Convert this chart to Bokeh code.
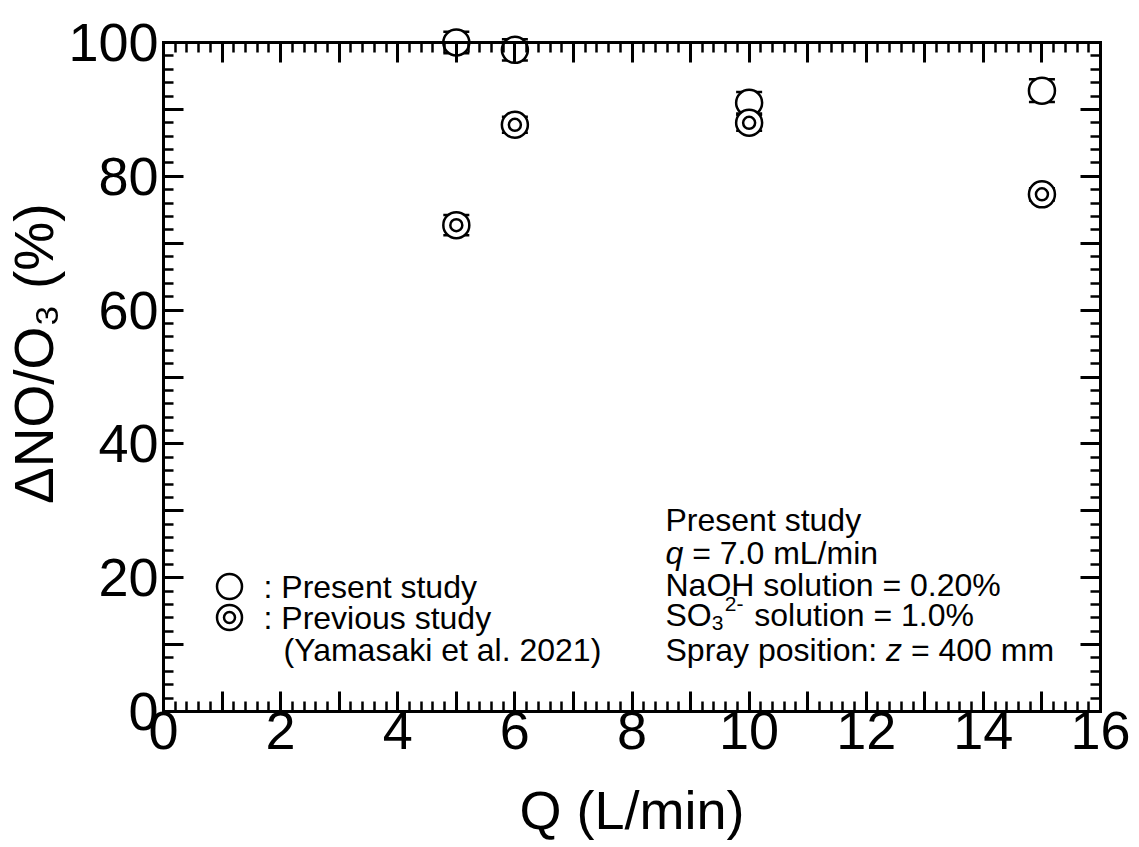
import numpy as np
from bokeh.plotting import figure
from bokeh.models import Range1d, FixedTicker, LinearAxis, Label
from bokeh.embed import file_html
from bokeh.resources import INLINE

# ---------------- data ----------------
q_present = [5, 6, 10, 15]
dno_present = [100.0, 98.9, 91.0, 92.8]
err_present = [1.6, 1.6, 1.6, 1.7]

q_previous = [5, 6, 10, 15]
dno_previous = [72.7, 87.7, 88.0, 77.3]
err_previous = [1.5, 1.2, 1.2, 0.9]

x_major = list(range(0, 17))
x_minor = [round(i * 0.2, 2) for i in range(0, 81)]
x_tick_labels = {t: (str(t) if t % 2 == 0 else "") for t in x_major}
y_major = list(range(0, 101, 10))
y_minor = list(range(0, 101, 2))
y_tick_labels = {t: (str(t) if t % 20 == 0 else "") for t in y_major}

x_title = "Q (L/min)"
y_title = "ΔNO/O\u2083 (%)"

# ---------------- layout helpers ----------------
W, H = 1139, 847
FL, FB, FW, FH = 163, 711, 937, 669      # box of the 0..16 x 0..100 area
XMIN, XMAX, YMIN, YMAX = 0, 16, 0, 100
FH_EXT = 685                              # frame extends a little above y=100
YTOP = YMAX * FH_EXT / FH
FONT = "Liberation Sans"
NB = "\u00a0"

def dx(px):
    return XMIN + (px - FL) / FW * (XMAX - XMIN)

def dy(py):
    return YMIN + (FB - py) / FH * (YMAX - YMIN)

AW = {' ': 278, NB: 278, 'S': 667, 'O': 778, 'P': 667, 'N': 722, 'H': 722, 'Q': 778,
      'L': 556, 'Y': 667, 'a': 556, 'p': 556, 'r': 333, 'e': 556, 's': 500, 'n': 556,
      't': 278, 'u': 556, 'd': 556, 'y': 500, 'o': 556, 'i': 222, 'l': 222, 'm': 833,
      'k': 500, 'v': 500, 'q': 556, 'z': 500, '/': 278, '=': 584, '.': 278, '%': 889,
      ':': 278, '(': 333, ')': 333, '-': 333}

def tw(s, size):
    return sum(AW.get(c, 556) for c in s) * size / 1000.0

# ---------------- figure ----------------
p = figure(frame_width=FW, frame_height=FH_EXT,
           x_range=Range1d(XMIN, XMAX), y_range=Range1d(YMIN, YTOP),
           output_backend="svg", toolbar_location=None,
           min_border_left=FL, min_border_top=FB - FH_EXT,
           min_border_right=W - FL - FW, min_border_bottom=H - FB,
           background_fill_color="white", border_fill_color="white")
p.grid.visible = False
p.outline_line_color = None

xt = FixedTicker(ticks=x_major, minor_ticks=x_minor)
yt = FixedTicker(ticks=y_major, minor_ticks=y_minor)

def style_axis(ax, labels, show):
    ax.axis_line_color = "black"
    ax.axis_line_width = 3
    ax.axis_line_cap = "square"
    ax.major_tick_in = 20
    ax.major_tick_out = 0
    ax.minor_tick_in = 10
    ax.minor_tick_out = 0
    ax.major_tick_line_width = 3
    ax.minor_tick_line_width = 2.5
    ax.major_tick_line_color = "black"
    ax.minor_tick_line_color = "black"
    ax.major_label_overrides = labels
    ax.major_label_text_font = FONT
    ax.major_label_text_color = "black"
    ax.axis_label_text_font = FONT
    ax.axis_label_text_color = "black"
    ax.axis_label_text_font_style = "normal"
    if show:
        ax.major_label_text_font_size = "54px"
    else:
        ax.axis_label = None
        ax.major_label_text_font_size = "0px"
        ax.major_label_standoff = 0

xa = p.xaxis[0]
xa.ticker = xt
xa.bounds = (XMIN, XMAX)
style_axis(xa, x_tick_labels, True)
xa.major_label_standoff = 0
xa.axis_label = x_title
xa.axis_label_text_font_size = "54px"
xa.axis_label_standoff = 28

ya = p.yaxis[0]
ya.ticker = yt
ya.bounds = (YMIN, YMAX)
style_axis(ya, y_tick_labels, True)
ya.major_label_standoff = 5
ya.axis_label = NB + NB + y_title
ya.axis_label_text_font_size = "55px"
ya.axis_label_standoff = 0

top = LinearAxis(ticker=xt, fixed_location=YMAX, bounds=(XMIN, XMAX))
style_axis(top, {t: "" for t in x_major}, False)
p.add_layout(top, "above")
right = LinearAxis(ticker=yt, bounds=(YMIN, YMAX))
style_axis(right, {t: "" for t in y_major}, False)
p.add_layout(right, "right")

# ---------------- error bars ----------------
cap = dx(FL + 13)

def errbars(xs, ys, es):
    lo = [y - e for y, e in zip(ys, es)]
    hi = [y + e for y, e in zip(ys, es)]
    p.segment(x0=xs, y0=lo, x1=xs, y1=hi, line_color="black", line_width=2)
    for ends in (lo, hi):
        p.segment(x0=[x - cap for x in xs], y0=ends, x1=[x + cap for x in xs], y1=ends,
                  line_color="black", line_width=2.5)

errbars(q_present, dno_present, err_present)
errbars(q_previous, dno_previous, err_previous)

# ---------------- markers ----------------
p.scatter(q_present, dno_present, marker="circle", size=26,
          fill_color="white", line_color="black", line_width=2.5)
p.scatter(q_previous, dno_previous, marker="circle", size=26,
          fill_color="white", line_color="black", line_width=2.5)
p.scatter(q_previous, dno_previous, marker="circle", size=12,
          fill_color="white", line_color="black", line_width=2.5)

# ---------------- legend (drawn) ----------------
p.scatter([dx(229)], [dy(586)], marker="circle", size=25,
          fill_color="white", line_color="black", line_width=2.5)
p.scatter([dx(229)], [dy(617)], marker="circle", size=25,
          fill_color="white", line_color="black", line_width=2.5)
p.scatter([dx(229)], [dy(617)], marker="circle", size=11,
          fill_color="white", line_color="black", line_width=2.5)

YSHIFT = -11

def lab(px, py, text, size, style="normal"):
    p.add_layout(Label(x=dx(px), y=dy(py + YSHIFT), text=text, text_font=FONT,
                       text_font_size=f"{size}px", text_font_style=style,
                       text_color="black", text_baseline="alphabetic",
                       text_align="left"))

TS = 32
lab(263, 597, ":" + NB + "Present study", TS)
lab(263, 628, ":" + NB + "Previous study", TS)
lab(283, 660, "(Yamasaki et al. 2021)", TS)

# right-hand condition block
RX = 665
lab(RX, 530, "Present study", TS)
lab(RX, 563, "q", TS, "italic")
lab(RX + tw("q", TS), 563, NB + "= 7.0 mL/min", TS)
lab(RX, 595, "NaOH solution = 0.20%", TS)
lab(RX, 625, "SO", TS)
lab(RX + tw("SO", TS), 633, "3", 21)
lab(RX + tw("SO", TS) + 13, 614, "2-", 21)
lab(RX + tw("SO", TS) + 13 + tw("2-", 21) + 2, 625, NB + "solution = 1.0%", TS)
lab(RX, 660, "Spray position:" + NB, TS)
lab(RX + tw("Spray position: ", TS), 660, "z", TS, "italic")
lab(RX + tw("Spray position: z", TS), 660, NB + "= 400 mm", TS)

open("out.html", "w").write(file_html(p, INLINE))
